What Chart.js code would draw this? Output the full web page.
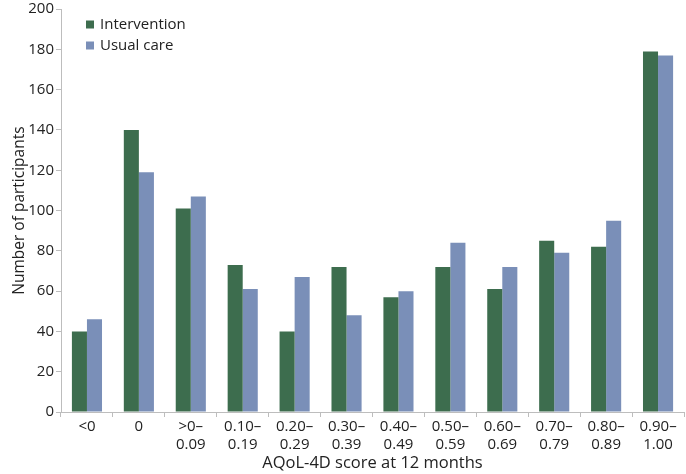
<!DOCTYPE html>
<html><head><meta charset="utf-8">
<script src="https://cdn.jsdelivr.net/npm/chart.js@4"></script>
<style>html,body{margin:0;padding:0;background:#fff}#wrap{width:686px;height:474px}</style>
</head><body><div id="wrap"><canvas id="c" width="686" height="474"></canvas></div>
<script>
const categories = [["<0"],["0"],[">0–","0.09"],["0.10–","0.19"],["0.20–","0.29"],["0.30–","0.39"],["0.40–","0.49"],["0.50–","0.59"],["0.60–","0.69"],["0.70–","0.79"],["0.80–","0.89"],["0.90–","1.00"]];
const intervention = [40, 140, 101, 73, 40, 72, 57, 72, 61, 85, 82, 179];
const usualCare = [46, 119, 107, 61, 67, 48, 60, 84, 72, 79, 95, 177];
const seriesNames = ["Intervention", "Usual care"];
const colors = ["#3d6d4e", "#7a8fb8"];
const FONT = "'Open Sans', sans-serif";

const legendPlugin = {
  id: 'insideLegend',
  afterDraw(chart) {
    const ctx = chart.ctx;
    ctx.save();
    ctx.font = "15px " + FONT;
    ctx.textBaseline = 'middle';
    chart.data.datasets.forEach((ds, i) => {
      const y = 24.5 + i * 21;
      ctx.fillStyle = ds.backgroundColor;
      ctx.fillRect(86, y - 4, 8, 8);
      ctx.fillStyle = '#222';
      ctx.fillText(ds.label, 100, y);
    });
    ctx.restore();
  }
};

new Chart(document.getElementById('c'), {
  type: 'bar',
  data: {
    labels: categories,
    datasets: [
      { label: seriesNames[0], data: intervention, backgroundColor: colors[0] },
      { label: seriesNames[1], data: usualCare, backgroundColor: colors[1] }
    ]
  },
  options: {
    responsive: false,
    animation: false,
    layout: { padding: { top: 0, right: 2, left: 0, bottom: 0 } },
    plugins: { legend: { display: false }, tooltip: { enabled: false } },
    datasets: { bar: { categoryPercentage: 0.58, barPercentage: 1.0 } },
    scales: {
      x: {
        grid: { display: true, drawOnChartArea: false, offset: true, tickLength: 5, color: '#bdbdbd' },
        border: { color: '#bdbdbd' },
        ticks: { color: '#222', font: { family: FONT, size: 15, lineHeight: 1.2 }, maxRotation: 0, autoSkip: false, padding: 1 },
        title: { display: true, text: 'AQoL-4D score at 12 months', color: '#222', font: { family: FONT, size: 16.5 }, padding: { top: 0, bottom: 1 } },
        afterFit(s) { s.height = 62; }
      },
      y: {
        min: 0, max: 200,
        grid: { display: true, drawOnChartArea: false, tickLength: 5, color: '#bdbdbd' },
        border: { color: '#bdbdbd' },
        ticks: { stepSize: 20, color: '#222', font: { family: FONT, size: 15, lineHeight: 0.95 }, padding: 2 },
        title: { display: true, text: 'Number of participants', color: '#222', font: { family: FONT, size: 15.5 }, padding: { top: 10, bottom: 0 } },
        afterFit(s) { s.width = 61; }
      }
    }
  },
  plugins: [legendPlugin]
});
</script></body></html>
